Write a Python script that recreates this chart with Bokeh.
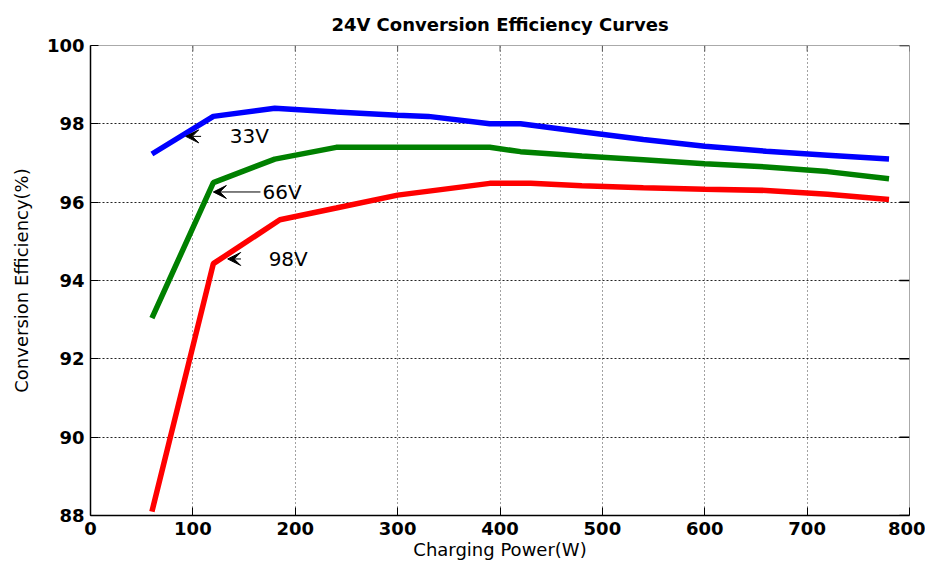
import math
from bokeh.plotting import figure
from bokeh.models import Range1d, FixedTicker, Arrow, VeeHead, Label
from bokeh.embed import file_html
from bokeh.resources import INLINE

# ---- data ----
p33_x = [60, 120, 180, 240, 300, 330, 390, 420, 480, 540, 600, 660, 720, 780]
p33_y = [97.23, 98.19, 98.40, 98.30, 98.22, 98.19, 98.00, 98.00, 97.80, 97.60, 97.43, 97.30, 97.20, 97.10]

p66_x = [60, 120, 180, 240, 300, 390, 420, 480, 540, 600, 660, 720, 780]
p66_y = [93.04, 96.50, 97.10, 97.40, 97.40, 97.40, 97.29, 97.18, 97.08, 96.98, 96.90, 96.78, 96.60]

p98_x = [60, 120, 185, 240, 300, 390, 430, 480, 540, 600, 660, 720, 780]
p98_y = [88.10, 94.43, 95.55, 95.85, 96.18, 96.48, 96.48, 96.42, 96.37, 96.33, 96.30, 96.20, 96.07]

series_names = ["33V", "66V", "98V"]
series_colors = ["#0000FF", "#008000", "#FF0000"]

x_ticks = [0, 100, 200, 300, 400, 500, 600, 700, 800]
y_ticks = [88, 90, 92, 94, 96, 98, 100]

# annotation anchors (data coords): arrow head x, arrow tail x, y, label x
ann_head_x = [93, 120, 134]
ann_tail_x = [108, 166, 147]
ann_y = [97.68, 96.26, 94.55]
ann_text_x = [136, 168, 174]

FONT = "DejaVu Sans"

p = figure(width=925, height=562, output_backend="svg", toolbar_location=None,
           x_range=Range1d(0, 800), y_range=Range1d(88, 100),
           min_border_left=90, min_border_right=16, min_border_top=44, min_border_bottom=45)

p.title.text = "24V Conversion Efficiency Curves"
p.title.align = "center"
p.title.text_font = FONT
p.title.text_font_size = "18px"
p.title.text_font_style = "bold"
p.title.text_color = "black"
p.title.offset = 0
p.title.standoff = 22

for xs, ys, c in zip([p33_x, p66_x, p98_x], [p33_y, p66_y, p98_y], series_colors):
    p.line(xs, ys, line_color=c, line_width=5.5)

p.xaxis.ticker = FixedTicker(ticks=x_ticks)
p.yaxis.ticker = FixedTicker(ticks=y_ticks)
for ax in p.xaxis + p.yaxis:
    ax.major_tick_in = 8
    ax.major_tick_out = 0
    ax.minor_tick_in = 0
    ax.minor_tick_out = 0
    ax.axis_line_color = "black"
    ax.axis_line_width = 1.5
    ax.major_label_text_font = FONT
    ax.major_label_text_font_size = "18px"
    ax.major_label_text_font_style = "bold"
    ax.major_label_text_color = "black"
    ax.axis_label_text_font = FONT
    ax.axis_label_text_font_size = "18px"
    ax.axis_label_text_font_style = "normal"
    ax.axis_label_text_color = "black"

p.xaxis.axis_label = "Charging Power(W)"
p.yaxis.axis_label = "Conversion Efficiency(%)"
p.xaxis.major_label_standoff = 6
p.yaxis.major_label_standoff = 6
p.xaxis.axis_label_standoff = 1
p.yaxis.axis_label_standoff = 12

# box ticks on top and right (drawn from the tick lists)
p.ray(x=x_ticks, y=[100] * len(x_ticks), length=6, length_units="screen",
      angle=-math.pi / 2, line_color="#555555", line_width=1)
p.ray(x=[800] * len(y_ticks), y=y_ticks, length=10, length_units="screen",
      angle=math.pi, line_color="black", line_width=1.5)

p.xgrid.grid_line_color = "#444444"
p.ygrid.grid_line_color = "#222222"
p.xgrid.grid_line_dash = "1 3"
p.ygrid.grid_line_dash = "2 2"
p.xgrid.grid_line_width = 1
p.ygrid.grid_line_width = 1
p.outline_line_color = "#aaaaaa"
p.outline_line_width = 1
p.background_fill_color = "white"
p.border_fill_color = "white"

for name, hx, tx, y, lx in zip(series_names, ann_head_x, ann_tail_x, ann_y, ann_text_x):
    p.add_layout(Arrow(end=VeeHead(size=13, fill_color="black", line_color="black"),
                       x_start=tx, y_start=y, x_end=hx, y_end=y,
                       line_color="black", line_width=1))
    p.add_layout(Label(x=lx, y=y, text=name, text_font=FONT, text_font_size="20px",
                       text_baseline="middle", text_align="left", text_color="black"))

open("out.html", "w").write(file_html(p, INLINE))
